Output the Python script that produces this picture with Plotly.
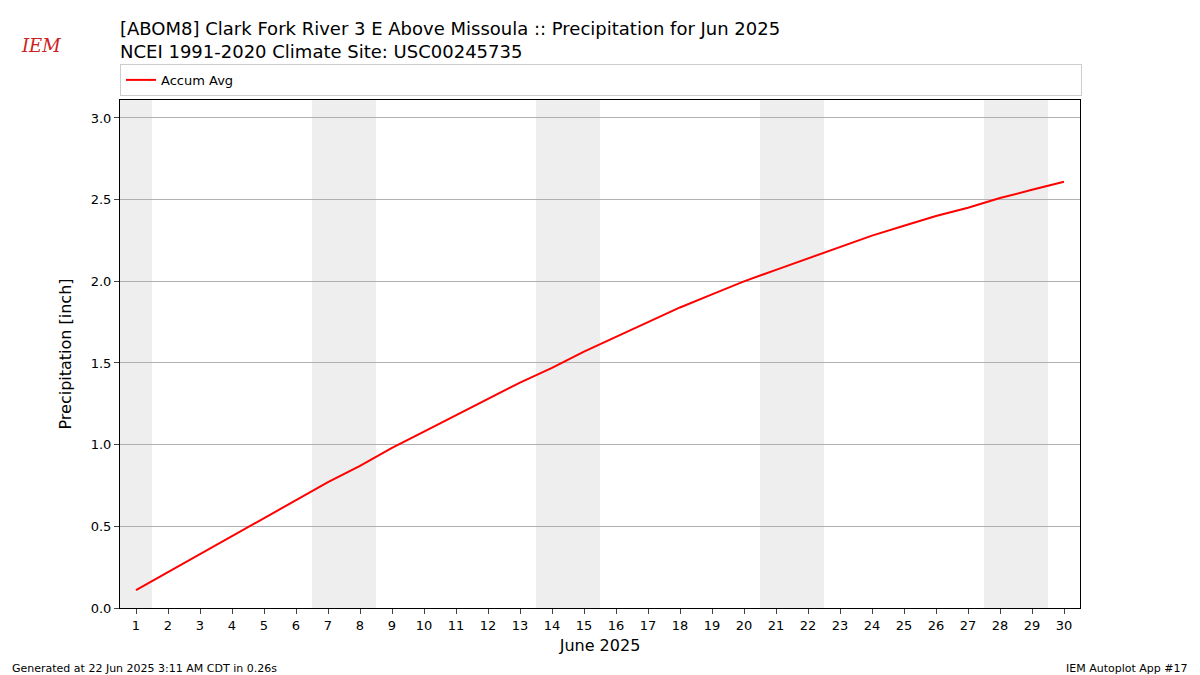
import plotly.graph_objects as go

days = list(range(1, 31))
accum = [0.11,0.22,0.33,0.44,0.55,0.66,0.77,0.87,0.98,1.08,1.18,1.28,1.38,1.47,1.57,
         1.66,1.75,1.84,1.92,2.00,2.07,2.14,2.21,2.28,2.34,2.40,2.45,2.51,2.56,2.61]
weekends = [(0.5,1.5),(6.5,8.5),(13.5,15.5),(20.5,22.5),(27.5,29.5)]

fig = go.Figure()
fig.add_trace(go.Scatter(x=days, y=accum, mode="lines", line=dict(color="red", width=2), name="Accum Avg"))
for a, b in weekends:
    fig.add_vrect(x0=a, x1=b, fillcolor="#eeeeee", line_width=0, layer="below")

fig.update_layout(
    width=1200, height=675, plot_bgcolor="white", paper_bgcolor="white",
    margin=dict(l=112, r=128, t=92, b=75, autoexpand=False),
    font=dict(family="DejaVu Sans", color="black"),
    title=dict(text="[ABOM8] Clark Fork River 3 E Above Missoula :: Precipitation for Jun 2025<br>NCEI 1991-2020 Climate Site: USC00245735",
               x=112/1200, xanchor="left", y=1-27/675, yanchor="top", font=dict(size=18)),
    showlegend=True,
    legend=dict(x=0, y=1.008, xanchor="left", yanchor="bottom", orientation="h",
                bordercolor="#cccccc", borderwidth=1, font=dict(size=13),
                entrywidth=915, entrywidthmode="pixels"),
    xaxis=dict(range=[0.5,30.5], tickvals=days, ticks="outside", showgrid=False,
               showline=True, linecolor="black", mirror=True, title=dict(text="June 2025", font=dict(size=16), standoff=8),
               tickfont=dict(size=13)),
    yaxis=dict(range=[0,3.11], dtick=0.5, tickformat=".1f", ticks="outside", showgrid=True, gridcolor="#b0b0b0",
               showline=True, linecolor="black", mirror=True, zeroline=False,
               title=dict(text="Precipitation [inch]", font=dict(size=16)), tickfont=dict(size=13)),
)
fig.add_annotation(text="Generated at 22 Jun 2025 3:11 AM CDT in 0.26s", xref="paper", yref="paper",
                   x=-0.115, y=-0.12, xanchor="left", yanchor="middle", showarrow=False, font=dict(size=11))
fig.add_annotation(text="IEM Autoplot App #17", xref="paper", yref="paper",
                   x=1.115, y=-0.12, xanchor="right", yanchor="middle", showarrow=False, font=dict(size=11))
fig.add_annotation(text="<i>IEM</i>", xref="paper", yref="paper", x=-0.105, y=1+(92-38)/508, xanchor="left",
                   yanchor="middle", showarrow=False, font=dict(size=18, color="#cc2222", family="DejaVu Serif"))
fig.write_html("out.html")
